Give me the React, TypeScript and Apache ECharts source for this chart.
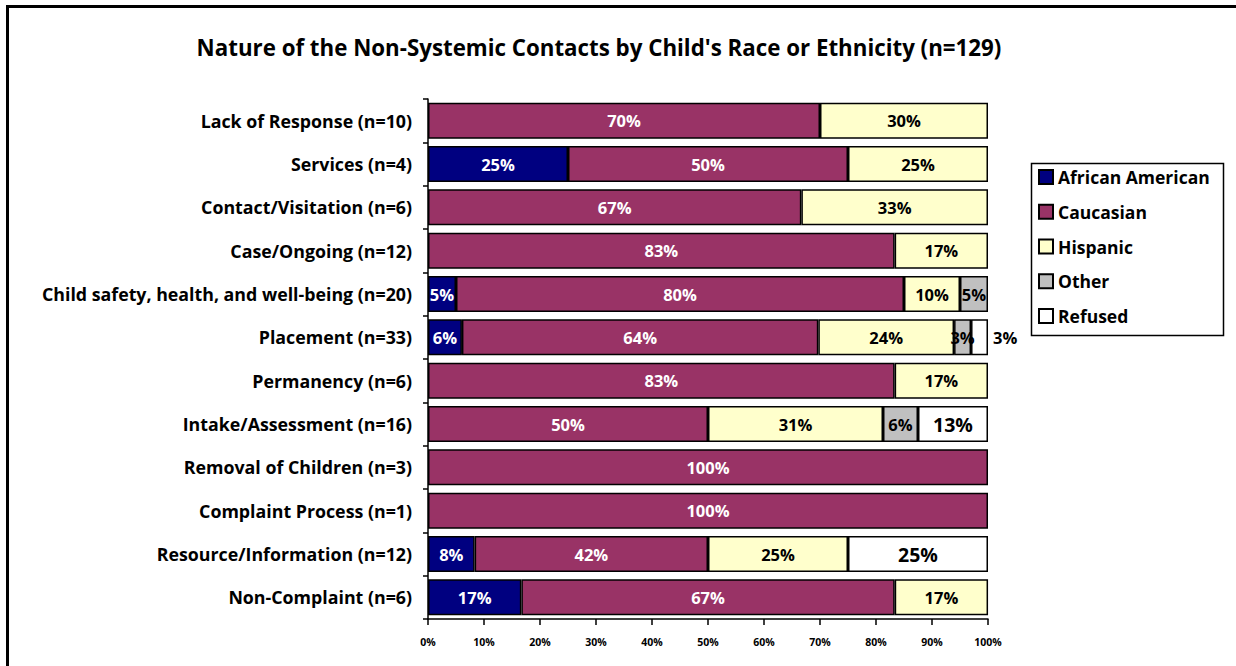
import React, { useEffect, useRef } from "react";
import * as echarts from "echarts";

const categories = [
  "Lack of Response (n=10)",
  "Services (n=4)",
  "Contact/Visitation (n=6)",
  "Case/Ongoing (n=12)",
  "Child safety, health, and well-being (n=20)",
  "Placement (n=33)",
  "Permanency (n=6)",
  "Intake/Assessment (n=16)",
  "Removal of Children (n=3)",
  "Complaint Process (n=1)",
  "Resource/Information (n=12)",
  "Non-Complaint (n=6)",
];

const africanAmerican = [null, 25, null, null, 5, 6.06, null, null, null, null, 8.33, 16.67];
const caucasian = [70, 50, 66.67, 83.33, 80, 63.64, 83.33, 50, 100, 100, 41.67, 66.67];
const hispanic = [30, 25, 33.33, 16.67, 10, 24.24, 16.67, 31.25, null, null, 25, 16.67];
const other = [null, null, null, null, 5, 3.03, null, 6.25, null, null, null, null];
const refused = [null, null, null, null, null, 3.03, null, 12.5, null, null, 25, null];

const xTicks = [0, 10, 20, 30, 40, 50, 60, 70, 80, 90, 100];

const FONT = "'Open Sans', Lato, sans-serif";

export default function App() {
  const ref = useRef<HTMLDivElement>(null);

  useEffect(() => {
    if (!ref.current) return;
    const chart = echarts.init(ref.current, null, { renderer: "svg" });

    const fmt = (p: any) => (p.value == null ? "" : Math.round(p.value) + "%");

    const mk = (name: string, data: (number | null)[], color: string, labelColor: string, fontSize = 16.5, special?: (v: any, i: number) => any) => ({
      name,
      type: "bar",
      stack: "total",
      barCategoryGap: "17%",
      data: data.map((v, i) => (special ? special(v, i) : v)),
      itemStyle: { color, borderColor: "#000", borderWidth: 1.5 },
      label: {
        show: true,
        position: "inside",
        formatter: fmt,
        color: labelColor,
        fontFamily: FONT,
        fontWeight: "bold",
        fontSize,
      },
    });

    chart.setOption({
      animation: false,
      title: {
        text: "Nature of the Non-Systemic Contacts by Child's Race or Ethnicity (n=129)",
        left: 594,
        top: 31,
        textAlign: "center",
        textStyle: { fontFamily: FONT, fontWeight: "bold", fontSize: 22.3, color: "#000" },
      },
      graphic: [
        {
          type: "rect",
          shape: { x: 7.5, y: 6.5, width: 1400, height: 800 },
          style: { fill: "none", stroke: "#000", lineWidth: 3 },
          silent: true,
        },
        {
          type: "rect",
          shape: { x: 1031.5, y: 163.5, width: 192, height: 172 },
          style: { fill: "#fff", stroke: "#000", lineWidth: 1.5 },
          silent: true,
          z: -1,
        },
      ],
      legend: {
        orient: "vertical",
        left: 1038,
        top: 168,
        padding: 0,
        itemWidth: 14,
        itemHeight: 14,
        itemGap: 16.75,
        icon: "rect",
        textStyle: { fontFamily: FONT, fontWeight: "bold", fontSize: 17.5, color: "#000", lineHeight: 17 },
      },
      grid: { left: 428, right: 248, top: 99, bottom: 47, containLabel: false },
      xAxis: {
        type: "value",
        min: 0,
        max: 100,
        interval: 10,
        splitLine: { show: false },
        axisLine: { show: true, lineStyle: { color: "#000", width: 1.5 } },
        axisTick: { show: true, length: 6, lineStyle: { color: "#000", width: 1.5 } },
        axisLabel: {
          formatter: (v: number) => (xTicks.includes(v) ? v + "%" : ""),
          fontFamily: FONT,
          fontWeight: "bold",
          fontSize: 10.5,
          color: "#000",
          margin: 17,
        },
      },
      yAxis: {
        type: "category",
        data: categories,
        inverse: true,
        axisLine: { show: true, lineStyle: { color: "#000", width: 1.5 } },
        axisTick: { show: true, length: 5, lineStyle: { color: "#000", width: 1.5 } },
        axisLabel: {
          fontFamily: FONT,
          fontWeight: "bold",
          fontSize: 17.8,
          color: "#000",
          margin: 16,
        },
      },
      series: [
        mk("African American", africanAmerican, "#000080", "#fff"),
        mk("Caucasian", caucasian, "#993366", "#fff"),
        mk("Hispanic", hispanic, "#FFFFCC", "#000"),
        mk("Other", other, "#C0C0C0", "#000"),
        mk("Refused", refused, "#FFFFFF", "#000", 19.5, (v, i) =>
          i === 5
            ? { value: v, label: { position: "right", fontSize: 16.5, distance: 5 } }
            : v
        ),
      ],
    });

    return () => chart.dispose();
  }, []);

  return (
    <div
      ref={ref}
      style={{ position: "fixed", left: 0, top: 0, width: 1236, height: 666, background: "#fff" }}
    />
  );
}
